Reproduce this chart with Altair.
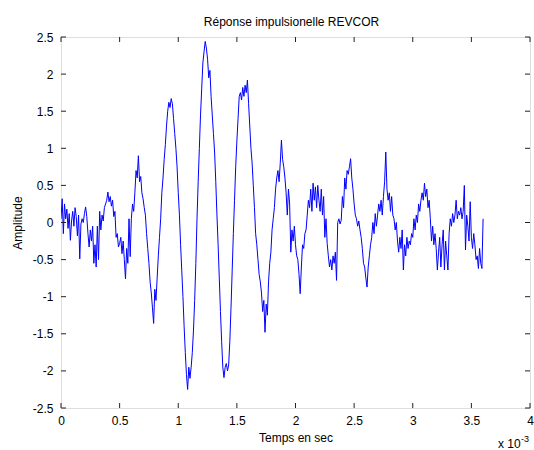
import altair as alt
import pandas as pd

# Amplitude samples, one every 0.01 ms
amplitude = [
    0.05, 0.32, -0.15, 0.25, 0.05, 0.18, -0.08, 0.12, -0.24, 0.02,
    0.15, -0.05, 0.20, 0.08, -0.18, 0.10, -0.49, -0.02, 0.05, 0.00,
    0.12, 0.21, 0.08, -0.15, -0.33, -0.10, -0.25, -0.05, -0.55, -0.30,
    -0.60, -0.05, -0.50, 0.15, -0.10, 0.10, 0.02, 0.20, 0.25, 0.30,
    0.41, 0.28, 0.35, 0.22, 0.30, 0.08, 0.15, -0.20, -0.15, -0.33,
    -0.28, -0.20, -0.42, -0.25, -0.50, -0.76, -0.35, -0.55, 0.05, -0.46,
    0.05, 0.25, 0.15, 0.40, 0.70, 0.60, 0.90, 0.55, 0.62, 0.40,
    0.32, 0.20, 0.10, -0.15, -0.35, -0.55, -0.80, -0.95, -1.15, -1.36,
    -0.90, -1.05, -0.75, -0.45, -0.20, 0.05, 0.40, 0.60, 0.85, 1.05,
    1.30, 1.50, 1.62, 1.55, 1.67, 1.60, 1.40, 1.20, 1.00, 0.75,
    0.40, 0.10, -0.30, -0.65, -1.00, -1.40, -1.75, -2.05, -2.25, -1.95,
    -2.10, -1.95, -1.75, -1.45, -1.05, -0.55, 0.05, 0.55, 1.00, 1.45,
    1.80, 2.15, 2.30, 2.44, 2.35, 2.20, 1.95, 2.05, 1.70, 1.45,
    1.20, 0.95, 0.55, 0.10, -0.30, -0.75, -1.20, -1.60, -1.95, -2.09,
    -1.95, -1.90, -2.00, -1.92, -1.60, -1.15, -0.65, -0.15, 0.30, 0.75,
    1.10, 1.40, 1.70, 1.75, 1.65, 1.82, 1.70, 1.85, 1.75, 1.92,
    1.60, 1.30, 1.00, 0.80, 0.50, 0.20, -0.15, -0.30, -0.50, -0.70,
    -0.80, -0.95, -1.20, -1.05, -1.48, -1.10, -1.25, -0.80, -0.55, -0.40,
    -0.10, 0.05, 0.20, 0.45, 0.60, 0.70, 0.55, 0.80, 1.11, 0.85,
    0.75, 0.60, 0.40, 0.10, 0.45, 0.25, -0.40, -0.10, -0.25, -0.05,
    -0.30, -0.45, -0.50, -0.70, -0.96, -0.60, -0.30, -0.35, -0.15, -0.10,
    0.10, 0.30, 0.20, 0.45, 0.15, 0.53, 0.30, 0.48, 0.20, 0.50,
    0.30, 0.15, 0.45, 0.10, 0.35, -0.20, 0.05, -0.28, -0.45, -0.60,
    -0.50, -0.64, -0.45, -0.55, -0.40, -0.78, 0.00, 0.05, -0.02, 0.03,
    0.35, 0.20, 0.60, 0.45, 0.70, 0.65, 0.75, 0.86, 0.60, 0.45,
    0.25, 0.10, 0.05, -0.05, 0.02, -0.10, -0.20, -0.35, -0.55, -0.60,
    -0.75, -0.87, -0.60, -0.45, -0.30, -0.20, 0.00, -0.15, 0.12, -0.05,
    0.10, 0.25, 0.15, 0.30, 0.10, 0.35, 0.55, 0.95, 0.45, 0.30,
    0.40, 0.15, 0.35, 0.10, 0.05, -0.10, 0.00, -0.25, -0.40, -0.20,
    -0.35, -0.10, -0.64, -0.30, -0.45, -0.20, -0.35, -0.25, -0.30, -0.15,
    -0.20, 0.05, -0.10, 0.10, 0.00, 0.25, 0.15, 0.30, 0.40, 0.30,
    0.53, 0.35, 0.45, 0.20, 0.30, 0.05, -0.25, -0.05, -0.30, -0.15,
    -0.35, -0.64, -0.40, -0.20, -0.60, -0.30, -0.10, -0.64, -0.25, -0.45,
    -0.64, -0.15, 0.05, -0.05, 0.12, 0.00, 0.10, 0.30, 0.05, 0.15,
    0.10, 0.20, 0.05, 0.15, 0.50, -0.37, 0.10, -0.05, -0.25, 0.28,
    -0.20, -0.35, -0.15, -0.30, -0.50, -0.45, -0.62, -0.35, -0.55, -0.62,
    0.05,
]
# time in units of 1e-3 s
time_ms = [round(i * 0.01, 2) for i in range(len(amplitude))]

x_ticks = [0, 0.5, 1, 1.5, 2, 2.5, 3, 3.5, 4]
y_ticks = [-2.5, -2, -1.5, -1, -0.5, 0, 0.5, 1, 1.5, 2, 2.5]

W, H = 469, 371
FONT = "Liberation Sans"

df = pd.DataFrame({"t": time_ms, "a": amplitude})
xt = pd.DataFrame({"t": x_ticks})
yt = pd.DataFrame({"a": y_ticks})

xscale = alt.Scale(domain=[0, 4], nice=False, zero=False)
yscale = alt.Scale(domain=[-2.5, 2.5], nice=False, zero=False)

common = dict(ticks=False, domain=False, grid=False, labelFontSize=12, titleFontSize=12,
              labelFont=FONT, titleFont=FONT, labelColor="black", titleColor="black",
              titleFontWeight="normal", labelFlush=False, labelOverlap=False,
              labelBound=False, labelExpr="datum.value + ''")
xaxis = alt.Axis(values=x_ticks, title="Temps en sec", labelPadding=7, titlePadding=6, **common)
yaxis = alt.Axis(values=y_ticks, title="Amplitude", labelPadding=8, titlePadding=8, **common)

X = alt.X("t:Q", scale=xscale, axis=xaxis)
Y = alt.Y("a:Q", scale=yscale, axis=yaxis)

line = alt.Chart(df).mark_line(color="#0000ff", strokeWidth=1, clip=True).encode(x=X, y=Y)

tick_col = "#222222"
xb = alt.Chart(xt).mark_rule(color=tick_col, strokeWidth=1).encode(
    x=X, y=alt.value(H), y2=alt.value(H - 5))
xtop = alt.Chart(xt).mark_rule(color=tick_col, strokeWidth=1).encode(
    x=X, y=alt.value(0), y2=alt.value(5))
yl = alt.Chart(yt).mark_rule(color=tick_col, strokeWidth=1).encode(
    y=Y, x=alt.value(0), x2=alt.value(5))
yr = alt.Chart(yt).mark_rule(color=tick_col, strokeWidth=1).encode(
    y=Y, x=alt.value(W), x2=alt.value(W - 5))

mult = alt.Chart(pd.DataFrame({"s": ["x 10"]})).mark_text(
    font=FONT, fontSize=12, align="left", baseline="alphabetic", color="black"
).encode(text="s:N", x=alt.value(437), y=alt.value(411))
expo = alt.Chart(pd.DataFrame({"s": ["-3"]})).mark_text(
    font=FONT, fontSize=9, align="left", baseline="alphabetic", color="black"
).encode(text="s:N", x=alt.value(460), y=alt.value(405))

chart = alt.layer(line, xb, xtop, yl, yr, mult, expo).properties(
    width=W, height=H,
    title=alt.TitleParams("Réponse impulsionelle REVCOR", font=FONT, fontSize=12,
                          fontWeight="normal", color="black", offset=2, dx=-4),
    autosize=alt.AutoSizeParams(type="none"),
    padding={"left": 61, "top": 37, "right": 4, "bottom": 42},
).configure_view(stroke="#222222", strokeWidth=1).configure(background="white")

chart.save("out.html", embed_options={"renderer": "svg", "actions": False})
